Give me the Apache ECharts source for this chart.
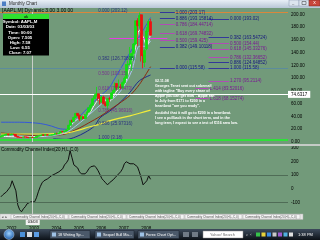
<!DOCTYPE html>
<html><head><meta charset="utf-8">
<script src="https://cdn.jsdelivr.net/npm/echarts@6/dist/echarts.min.js"></script>
<style>html,body{margin:0;padding:0;overflow:hidden;background:#729a7a}#chart{width:320px;height:240px}</style>
</head><body><div id="chart"></div>
<script>
// ---------------- data ----------------
// monthly categories Oct 2001 .. (empty future space to the right)
const months = [];
for (let k = 0; k < 154; k++) { const m = 9 + k; months.push((2001 + Math.floor(m / 12)) + '-' + String(m % 12 + 1).padStart(2, '0')); }

// AAPL monthly [open, close, low, high], Oct 2001 .. Jun 2008
const ohlc = [
[7.8,8.8,7.4,9.5],[8.8,10.65,8.5,10.8],[10.65,10.95,10.2,11.8],
[10.9,12.4,10.3,12.7],[12.4,10.85,10.5,12.5],[10.9,11.8,10.8,12.2],[11.8,12.1,11.5,13.1],[12.1,11.65,11.2,12.6],[11.7,8.86,8.1,12.0],
[8.9,7.63,7.0,9.0],[7.6,7.38,7.1,7.9],[7.4,7.25,6.9,7.7],[7.3,8.03,6.9,8.4],[8.0,7.83,7.5,8.8],[7.8,7.16,6.9,8.2],
[7.2,7.18,6.9,7.8],[7.2,7.5,6.9,7.7],[7.5,7.07,6.8,7.8],[7.1,7.11,6.36,7.3],[7.1,9.0,7.0,9.4],[9.0,9.53,8.6,10.1],
[9.5,10.54,9.3,10.9],[10.5,11.3,10.0,11.4],[11.3,10.36,10.2,11.5],[10.4,11.44,10.0,12.0],[11.4,10.45,10.1,12.2],[10.5,10.69,9.9,11.2],
[10.7,11.28,10.5,12.0],[11.3,11.96,10.6,12.0],[12.0,13.52,11.6,14.0],[13.5,12.89,12.7,14.3],[12.9,14.03,12.6,14.2],[14.0,16.27,13.9,16.8],
[16.3,16.17,14.7,17.1],[16.2,17.33,15.3,17.6],[17.3,19.38,16.9,19.6],[19.4,26.2,19.3,26.7],[26.2,33.5,25.8,34.6],[33.5,32.2,31.0,35.1],
[32.2,38.45,31.0,39.5],[38.5,44.86,38.0,45.4],[44.9,41.67,40.0,45.2],[41.7,36.06,33.1,43.0],[36.1,39.76,35.3,40.8],[39.8,36.81,35.9,40.6],
[36.8,42.65,36.3,43.6],[42.7,46.89,42.6,47.5],[46.9,53.61,46.8,54.1],[53.6,57.59,48.0,60.2],[57.6,67.82,57.3,68.2],[67.8,71.89,67.4,75.5],
[71.9,75.51,71.7,86.4],[75.5,68.49,64.3,75.5],[68.5,62.72,58.7,72.6],[62.7,70.39,61.8,72.0],[70.4,59.77,59.7,72.5],[59.8,57.27,55.4,63.8],
[57.3,67.96,50.16,68.3],[68.0,67.85,62.7,71.0],[67.9,76.98,66.8,77.8],[77.0,81.08,72.7,81.3],[81.1,91.66,80.6,93.2],[91.7,84.84,81.9,92.0],
[84.8,85.73,81.9,97.8],[85.7,84.61,83.0,90.6],[84.6,92.91,83.2,95.0],[92.9,99.8,90.0,102.7],[99.8,121.19,98.6,122.0],[121.2,122.04,116.1,127.6],
[122.0,131.76,121.4,148.9],[131.8,138.48,111.6,139.5],[138.5,153.47,127.5,155.0],[153.5,189.95,152.5,190.1],[190.0,182.22,150.6,194.0],[182.2,198.08,178.0,202.96],
[199.3,135.36,126.1,200.3],[136.2,125.02,115.44,136.4],[125.0,143.5,117.2,145.0],[146.3,173.95,143.9,180.0],[175.0,188.75,172.6,192.2],[188.6,167.44,166.5,193.0]
];

// Commodity Channel Index (20), one value per month
const cci = [-59,-44,-37,-22,-15,15,59,51,-15,-118,-154,-169,-147,-132,-110,-103,-96,-96,-96,-66,-22,15,44,59,66,74,88,96,103,110,118,125,132,147,176,191,213,279,228,176,162,154,125,110,103,110,125,147,162,176,169,154,132,103,74,59,44,29,44,51,66,81,96,110,125,147,184,199,199,184,176,184,184,162,125,81,29,37,59,96,70];

// indicator lines: [month index, value]
const whiteMA = [[0,9],[10,8],[21,9],[28,12],[35,18],[38,28],[42,38],[47,44],[50,58],[53,68],[58,64],[62,80],[66,90],[69,118],[72,148],[74,175],[76,165],[78,150],[80,170]];
const lightBlueMA = [[0,10],[10,9],[21,8.5],[30,11],[35,15],[40,25],[45,37],[50,50],[55,62],[60,68],[65,84],[70,112],[74,150],[77,150],[80,158]];
const upperBand = [[0,31],[10,31],[21,29],[27,25],[31,21],[35,20],[38,28],[42,40],[47,55],[53,72],[58,85],[60,95],[63,110],[69,140],[74,165],[80,195]];
const lowerBand = [[28,5],[35,4],[40,8],[45,15],[50,25],[53,38],[58,48],[63,60],[69,78],[74,96],[80,105]];
const brownMA = [[0,14],[10,12],[21,9.5],[31,11],[35,13],[42,22],[47,30],[53,40],[58,50],[63,60],[69,73],[74,90],[80,118]];
const yellowMA = [[0,12.5],[10,12.5],[21,12.5],[28,13],[35,14],[42,19],[47,23.5],[53,28],[58,33],[63,37],[69,41],[74,45],[80,50]];

// Fibonacci levels
const fibALevels = ['1.000','0.886','0.786','0.618','0.500','0.382','0.000'];
const fibAValues = [203.17,193.15814,184.44714,169.74832,159.425,149.10118,115.58];
const fibBLevels = ['0.000','0.382','0.500','0.618','0.786','0.886','1.000','1.270'];
const fibBValues = [193.02,163.54724,154.44,145.33276,132.36652,124.64852,115.58,95.2114];
const fibDLevels = ['1.414','1.618'];
const fibDValues = [83.52016,68.15274];
const fibCLevels = ['0.000','0.382','0.500','0.618','0.786','0.886','1.000'];
const fibCValues = [203.12,126.73808,103.15,79.56473,45.96916,25.97316,3.18];

const keyLines = [203.12, 115.58, 3.18];
const crossDate = '2003-03', crossDateText = '03/03', crossPrice = 74.6317;
const lastPrice = 167.44, lastCci = 66.32;
const cciBands = [100, -100];
const pinkPrice = 162.5, pinkDate = '2008-04';
const lastYear = 2008;

// ---------------- chart ----------------
const FONT = 'Liberation Sans, Arial, sans-serif';
const NAVY = '#16177f', PURPLE = '#7a1a93';
const purpleSet = ['0.500','0.618','0.786','1.270','1.414','1.618'];

function fibSegs(levels, values, from, to) {
  return levels.map((lv, k) => {
    const p = purpleSet.includes(lv);
    return [
      { coord: [from, values[k]], lineStyle: { color: p ? '#b04cb6' : '#34389a', width: 1, type: 'solid' },
        label: { show: true, position: 'end', distance: 1, formatter: lv + ' (' + values[k] + ')', color: p ? PURPLE : NAVY,
                 fontSize: 4.5, fontFamily: FONT, padding: [0, 0, 4, 0] } },
      { coord: [to, values[k]] }
    ];
  });
}

const lineStyles = [
  { d: upperBand, c: '#3558d8', w: 1 },
  { d: lowerBand, c: '#1c2a8c', w: 1 },
  { d: brownMA, c: '#8a2a10', w: 1 },
  { d: yellowMA, c: '#f2ec3a', w: 1.2 },
  { d: lightBlueMA, c: '#a9c4ee', w: 1 },
  { d: whiteMA, c: '#f4f4f4', w: 1 }
];

const keyColors = ['#d9873c', '#5c8c9c', '#2fe03a'];

const series = [
  {
    type: 'candlestick', xAxisIndex: 0, yAxisIndex: 0, data: ohlc, barWidth: 2.4,
    itemStyle: { color: '#10e010', color0: '#ee1010', borderColor: '#10e010', borderColor0: '#ee1010', borderWidth: 0.8 },
    z: 5,
    markLine: {
      symbol: ['none', 'none'], silent: true, animation: false,
      data: [
        ...keyLines.map((v, k) => ({ yAxis: v, lineStyle: { color: keyColors[k], width: k === 2 ? 2 : 1, type: 'solid' }, label: { show: false } })),
        { xAxis: crossDate, lineStyle: { color: '#c9cfc9', width: 1, type: 'solid' }, label: { show: false } },
        { yAxis: crossPrice, lineStyle: { color: '#ffffff', width: 1, type: 'solid' },
          label: { show: true, position: 'end', distance: 0, formatter: String(crossPrice), backgroundColor: '#ffffff', color: '#000', fontSize: 4.5, fontFamily: FONT, padding: [1, 3] } },
        { yAxis: lastPrice, lineStyle: { opacity: 0, width: 0 },
          label: { show: true, position: 'end', distance: 0, formatter: lastPrice.toFixed(2), backgroundColor: '#00f000', color: '#000', fontSize: 4.5, fontFamily: FONT, padding: [1, 5] } },
        [ { coord: ['2006-08', pinkPrice], lineStyle: { color: '#e43ee0', width: 1, type: 'solid' }, label: { show: false } }, { coord: ['2009-03', pinkPrice] } ],
        [ { coord: [pinkDate, 150], lineStyle: { color: '#e43ee0', width: 1, type: 'solid' }, label: { show: false } }, { coord: [pinkDate, 174] } ],
        ...fibSegs(fibALevels, fibAValues, '2008-11', '2009-07'),
        ...fibSegs(fibBLevels, fibBValues, '2011-01', '2011-12'),
        ...fibSegs(fibDLevels, fibDValues, '2010-06', '2011-01')
      ]
    }
  },
  ...lineStyles.map(s => ({
    type: 'line', xAxisIndex: 0, yAxisIndex: 0, data: s.d, showSymbol: false, smooth: 0.3, silent: true,
    lineStyle: { color: s.c, width: s.w }, z: 3
  })),
  {
    type: 'scatter', xAxisIndex: 0, yAxisIndex: 0, symbolSize: 0, silent: true, z: 6,
    data: fibCValues.map((v, k) => ({ value: ['2006-02', v],
      label: { color: purpleSet.includes(fibCLevels[k]) ? PURPLE : NAVY } })),
    label: { show: true, position: 'right', distance: 0, offset: [0, -2], fontSize: 4.5, fontFamily: FONT,
      formatter: p => fibCLevels[p.dataIndex] + ' (' + fibCValues[p.dataIndex] + ')' }
  },
  {
    type: 'line', xAxisIndex: 1, yAxisIndex: 1, data: cci, showSymbol: false, silent: true,
    lineStyle: { color: '#101010', width: 1 },
    markLine: {
      symbol: ['none', 'none'], silent: true, animation: false,
      data: [
        ...cciBands.map(v => ({ yAxis: v, lineStyle: { color: '#4f6c56', width: 1, type: 'solid' }, label: { show: false } })),
        { xAxis: crossDate, lineStyle: { color: '#c9cfc9', width: 1, type: 'solid' },
          label: { show: true, position: 'start', distance: 3, formatter: crossDateText, backgroundColor: '#f2f2f2', color: '#000', fontSize: 4, fontFamily: FONT, padding: [1, 2] } },
        { yAxis: lastCci, lineStyle: { opacity: 0, width: 0 },
          label: { show: true, position: 'end', distance: 0, formatter: lastCci.toFixed(2), backgroundColor: '#000', color: '#fff', fontSize: 4.5, fontFamily: FONT, padding: [1, 2] } }
      ]
    }
  }
];

// ---------------- window chrome (graphics) ----------------
function txt(x, y, t, size, color, extra) {
  return Object.assign({ type: 'text', z: 100, style: Object.assign({ x: x, y: y, text: t, fontSize: size, fontFamily: FONT, fill: color, verticalAlign: 'middle' }, extra || {}) });
}
function rect(x, y, w, h, fill, stroke) {
  return { type: 'rect', z: 99, shape: { x: x, y: y, width: w, height: h }, style: { fill: fill, stroke: stroke || null, lineWidth: stroke ? 0.5 : 0 } };
}
const G = [];
// title bar
G.push(rect(0, 0, 320, 8, new echarts.graphic.LinearGradient(0, 0, 0, 1, [{ offset: 0, color: '#e8eff6' }, { offset: 1, color: '#b7c6d6' }])));
G.push(rect(2, 1.5, 4, 4.5, '#4d7fc4'));
G.push(txt(9, 4, 'Monthly Chart', 4.5, '#2a2a2a'));
G.push(rect(289, 0, 10, 6, '#dbe4ee', '#8a9ab0'));
G.push(rect(299, 0, 10, 6, '#dbe4ee', '#8a9ab0'));
G.push(rect(309, 0, 11, 6, '#c9463b', '#7a2a22'));
G.push(txt(314.5, 3, 'x', 5, '#fff', { align: 'center' }));
G.push(txt(292, 2.5, '_', 4, '#333'));
G.push(rect(302, 1.5, 4, 3, null, '#333'));
// header
G.push(txt(2, 10.5, '[AAPL,M] Dynamic 3.00 3.00 00', 5, '#000'));
// info box
G.push(rect(3, 14, 46, 41.5, '#000'));
G.push(rect(3, 14, 46, 5, '#2fe02f'));
G.push(txt(26, 16.5, 'ok', 4, '#000', { align: 'center' }));
['Symbol: AAPL,M', 'Date: 03/03/03', 'Time: 00:00', 'Open: 7.505', 'High: 7.58', 'Low: 6.55', 'Close: 7.07'].forEach((t, k) => {
  G.push(txt(20, 22 + k * 5.2, t, 4.3, '#fff', { align: 'center', fontWeight: 'bold' }));
});
// annotation
const note1 = ['02.11.08', 'Georges Tenet sent out subemail', 'with tagline "Buy every share of', 'Apple you can get now". Apple ran', 'in July from $171 to $200 in a', 'heartbeat "are you ready".'];
const note2 = ['doubtful that it will go to $200 in a heartbeat.', 'I see a pullback in the short term, and in the', 'long term, I expect to see a test of $116 area low.'];
note1.forEach((t, k) => G.push(txt(155, 81 + k * 4.9, t, 3.6, '#fff', { fontWeight: 'bold' })));
note2.forEach((t, k) => G.push(txt(155, 113 + k * 4.8, t, 3.6, '#fff', { fontWeight: 'bold' })));
// pane separator & CCI title
G.push(rect(0, 144, 320, 2, '#c5cbc6'));
G.push(txt(1, 150, 'Commodity Channel Index(20,H,L,C,0)', 4.5, '#000'));
// tab strip
G.push(rect(0, 214, 303, 5.5, '#e6e6e6', '#b0b0b0'));
G.push(txt(1, 216.8, '\u25C4 \u25BA', 3, '#444'));
for (let k = 0; k < 5; k++) {
  G.push(rect(11 + k * 58, 214.5, 57, 4.5, '#f4f4f4', '#aaaaaa'));
  G.push(txt(13 + k * 58, 216.8, 'Commodity Channel Index(20,H,L,C,0)', 3, '#555'));
}
// taskbar
G.push(rect(0, 229, 320, 11, new echarts.graphic.LinearGradient(0, 0, 0, 1, [{ offset: 0, color: '#3d4b5c' }, { offset: 1, color: '#0c1117' }])));
G.push({ type: 'circle', z: 100, shape: { cx: 9, cy: 234.5, r: 5 }, style: { fill: new echarts.graphic.RadialGradient(0.5, 0.4, 0.6, [{ offset: 0, color: '#9fd3ff' }, { offset: 1, color: '#1c5aa6' }]), stroke: '#c5d8e8', lineWidth: 0.5 } });
G.push(rect(20, 232, 5, 5, '#4a90d9'));
G.push(rect(27, 232, 5, 5, '#d8dde2'));
G.push(rect(34, 232, 5, 5, '#5c9ee6'));
[[50, 40, '18 Writing Sp...'], [95, 39, 'Sequel Bull Ma...'], [138, 41, 'Forex Chart Opt...']].forEach(b => {
  G.push(rect(b[0], 230.5, b[1], 8, '#4b596a', '#1a222c'));
  G.push(rect(b[0] + 2, 232.5, 4, 4, '#9fc2e6'));
  G.push(txt(b[0] + 8, 234.5, b[2], 3.8, '#ffffff'));
});
G.push(rect(183, 232, 6, 5, '#707a86'));
G.push(rect(192, 232, 6, 5, '#707a86'));
G.push(rect(203, 231, 40, 7, '#ffffff', '#888'));
G.push(txt(210, 234.5, 'Yahoo! Search', 3.8, '#666'));
G.push(txt(246, 234.5, '\u2315  \u2039', 4, '#ddd'));
['#36c24a', '#e8d23a', '#3a8ee8', '#c9c9c9', '#a05ad0', '#4fb0e0', '#e0e0e0'].forEach((c, k) => G.push(rect(256 + k * 5.5, 232.5, 4, 4, c)));
G.push(txt(298, 234.5, '1:38 PM', 4, '#ffffff'));

const option = {
  animation: false,
  backgroundColor: '#729a7a',
  textStyle: { fontFamily: FONT },
  grid: [
    { left: 0, right: 32, top: 8, height: 134 },
    { left: 0, right: 32, top: 148, height: 68 }
  ],
  xAxis: [
    { type: 'category', gridIndex: 0, data: months, boundaryGap: true, axisLine: { show: false }, axisTick: { show: false }, axisLabel: { show: false }, splitLine: { show: false } },
    { type: 'category', gridIndex: 1, data: months, boundaryGap: true, axisLine: { show: false }, axisTick: { show: false }, splitLine: { show: false },
      axisLabel: { show: true, margin: 10, fontSize: 4.5, color: '#000', align: 'left', hideOverlap: false,
        interval: (i, v) => v.endsWith('-01') && +v.slice(0, 4) <= lastYear,
        formatter: v => v.slice(0, 4) } }
  ],
  yAxis: [
    { type: 'value', gridIndex: 0, position: 'right', min: 0, max: 210, interval: 20, splitLine: { show: false }, axisLine: { show: false }, axisTick: { show: false },
      axisLabel: { margin: 3, fontSize: 4.5, color: '#000', formatter: v => (v % 20 === 0 && v <= 200) ? v.toFixed(2) : '' } },
    { type: 'value', gridIndex: 1, position: 'right', min: -200, max: 300, interval: 100, splitLine: { show: false }, axisLine: { show: false }, axisTick: { show: false },
      axisLabel: { margin: 3, fontSize: 4.5, color: '#000', formatter: v => v === -200 ? '' : String(v) } }
  ],
  series: series,
  graphic: G
};
const chart = echarts.init(document.getElementById('chart'), null, { renderer: 'canvas' });
chart.setOption(option);
</script></body></html>
